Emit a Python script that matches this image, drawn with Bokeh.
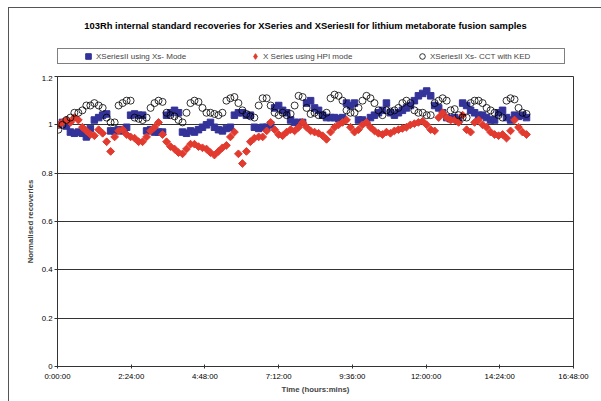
from bokeh.plotting import figure
from bokeh.layouts import column
from bokeh.models import (Legend, LegendItem, FixedTicker, NumeralTickFormatter, Range1d,
                          Label)
from bokeh.embed import file_html
from bokeh.resources import INLINE

FONT = "Liberation Sans"
BLUE = "#333399"
RED = "#e23a2e"
NAN = float("nan")

# sample times in hours
time_h = [
    0.03, 0.16, 0.29, 0.42, 0.55, 0.68, 0.81, 0.94, 1.07, 1.20,
    1.34, 1.47, 1.60, 1.73, 1.86, 1.99, 2.12, 2.25, 2.38, 2.51,
    2.64, 2.77, 2.90, 3.03, 3.16, 3.29, 3.42, 3.55, 3.68, 3.81,
    3.94, 4.07, 4.20, 4.33, 4.46, 4.59, 4.72, 4.85, 4.98, 5.11,
    5.24, 5.37, 5.50, 5.63, 5.76, 5.89, 6.02, 6.15, 6.28, 6.41,
    6.55, 6.68, 6.81, 6.94, 7.07, 7.20, 7.33, 7.46, 7.59, 7.72,
    7.85, 7.98, 8.11, 8.24, 8.37, 8.50, 8.63, 8.76, 8.89, 9.02,
    9.15, 9.28, 9.41, 9.54, 9.67, 9.80, 9.93, 10.06, 10.19, 10.32,
    10.45, 10.58, 10.71, 10.84, 10.97, 11.10, 11.23, 11.36, 11.49, 11.62,
    11.75, 11.89, 12.02, 12.15, 12.28, 12.41, 12.54, 12.67, 12.80, 12.93,
    13.06, 13.19, 13.32, 13.45, 13.58, 13.71, 13.84, 13.97, 14.10, 14.23,
    14.36, 14.49, 14.62, 14.75, 14.88, 15.01, 15.14, 15.27,
]

# XSeriesII using Xs- Mode
xs2_xs_mode = [
    1.0, 1.01, 0.995, 0.97, 0.965, 0.97, 0.965, 0.95, 0.985, 1.02,
    1.03, 1.04, 1.045, 0.975, 0.975, 0.98, 0.975, 0.99, 1.04, 1.045,
    1.04, 1.04, 0.975, 0.98, 0.97, 0.97, 0.97, 1.04, 1.05, 1.06,
    1.05, 0.97, 0.965, 0.975, 0.97, 0.98, 0.99, 1.0, 1.01, 0.99,
    0.98, 0.975, 0.985, 0.99, 1.04, 1.05, 1.05, 1.04, 1.04, 0.99,
    0.985, 0.99, 0.99, 1.0, 1.07, 1.08, 1.06, 1.05, 1.02, 1.01,
    1.01, 1.01, 1.09, 1.1, 1.07, 1.06, 1.04, 1.03, 1.03, 1.03,
    1.025, 1.03, 1.09, 1.08, 1.09, 1.02, 1.02, 1.01, 1.03, 1.04,
    1.05, 1.06, 1.09, 1.05, 1.04, 1.05, 1.06, 1.07, 1.08, 1.1,
    1.12, 1.13, 1.14, 1.12, 1.08, 1.07, 1.05, 1.03, 1.025, 1.03,
    1.02, 1.09, 1.08, 1.06, 1.05, 1.04, 1.04, 1.03, 1.02, 1.02,
    1.05, 1.06, 1.03, 1.02, 1.04, 1.035, 1.04, 1.03,
]

# X Series using HPI mode
xs_hpi_mode = [
    1.00, 1.01, 1.02, 1.01, 1.03, 1.02, 0.99, 0.975, 0.96, 0.955,
    0.98, 0.965, 0.93, 0.89, 0.95, 0.975, 0.98, 0.96, 0.95, 0.945,
    0.93, 0.93, 0.95, 0.975, 0.99, 1.01, 0.96, 0.93, 0.91, 0.90,
    0.885, 0.88, 0.90, 0.92, 0.92, 0.91, 0.905, 0.90, 0.885, 0.875,
    0.89, 0.905, 0.915, 0.95, 0.97, 0.88, 0.84, 0.89, 0.93, 0.945,
    0.95, 0.95, 0.975, 1.01, 0.98, 0.96, 0.955, 0.97, 0.98, 0.975,
    0.99, 1.01, 0.99, 0.975, 0.97, 0.965, 0.955, 0.94, 0.97, 0.99,
    1.0, 1.01, 1.02, 0.99, 0.97, 0.98, 1.0, 1.01, 0.99, 0.975,
    0.965, 0.96, 0.97, 0.965, 0.975, 0.98, 0.985, 0.99, 1.0, 1.005,
    1.01, 1.015, 1.0, 0.98, 0.975, 1.03, 1.05, 1.03, 1.02, 1.02,
    1.01, 1.04, 0.98, 0.97, 1.01, 1.02, 1.0, 0.99, 0.97, 0.96,
    0.955, 0.96, 0.945, 0.975, 1.02, 0.99, 0.97, 0.96,
]

# XSeriesII Xs- CCT with KED
xs2_cct_ked = [
    0.98, 1.0, 1.02, 1.03, 1.05, 1.05, 1.06, 1.08, 1.08, 1.09,
    1.08, 1.07, 1.03, 1.01, 1.01, 1.08, 1.09, 1.1, 1.1, 1.03,
    1.025, 1.02, 1.03, 1.07, 1.09, 1.1, 1.095, 1.05, 1.04, 1.035,
    1.02, 1.01, 1.05, 1.09, 1.1, 1.095, 1.07, 1.05, 1.05, 1.045,
    1.04, 1.05, 1.1, 1.11, 1.115, 1.09, 1.06, 1.045, 1.035, 1.03,
    1.08, 1.11, 1.11, 1.08, 1.05, 1.04, 1.05, 1.04, 1.045, 1.08,
    1.12, 1.115, 1.07, 1.045, 1.05, 1.04, 1.04, 1.05, 1.11, 1.125,
    1.12, 1.1, 1.06, 1.05, 1.05, 1.07, 1.1, 1.12, 1.11, 1.09,
    1.06, 1.04, 1.06, 1.055, 1.06, 1.07, 1.09, 1.1, 1.09, 1.06,
    1.05, 1.05, 1.04, 1.04, 1.09, 1.1, 1.11, 1.1, 1.06, 1.065,
    1.04, 1.03, 1.03, 1.09, 1.1, 1.1, 1.09, 1.07, 1.06, 1.05,
    1.04, 1.03, 1.1, 1.11, 1.105, 1.07, 1.05, 1.045,
]

series_labels = ["XSeriesII using Xs- Mode", "X Series using HPI mode", "XSeriesII Xs- CCT with KED"]
chart_title = "103Rh internal standard recoveries for XSeries and XSeriesII for lithium metaborate fusion samples"
x_ticks = [0, 2.4, 4.8, 7.2, 9.6, 12, 14.4, 16.8]
x_tick_labels = ["0:00:00", "2:24:00", "4:48:00", "7:12:00", "9:36:00", "12:00:00", "14:24:00", "16:48:00"]
y_ticks = [0, 0.2, 0.4, 0.6, 0.8, 1.0, 1.2]

# ---------- header: title + legend ----------
head = figure(width=592, height=67, output_backend="svg", toolbar_location=None,
              x_axis_type=None, y_axis_type=None, x_range=Range1d(0, 1), y_range=Range1d(0, 1),
              min_border=0, outline_line_color=None)
head.grid.visible = False
head.border_fill_color = "white"
head.background_fill_color = "white"

# legend-only renderers (no visible data points)
h1 = head.scatter(x=[NAN], y=[NAN], marker="square", size=6, fill_color=BLUE, line_color=BLUE)
h2 = head.scatter(x=[NAN], y=[NAN], marker="diamond", size=9, fill_color=RED, line_color=RED)
h3 = head.scatter(x=[NAN], y=[NAN], marker="circle", size=7, fill_color=None, line_color="black",
                  line_width=0.8)

head.add_layout(Label(x=248, y=50, x_units="screen", y_units="screen", text=chart_title,
                      text_align="center", text_baseline="middle", text_font=FONT,
                      text_font_size="9.4px", text_font_style="bold", text_color="black"))

legend = Legend(items=[LegendItem(label=series_labels[0], renderers=[h1]),
                       LegendItem(label=series_labels[1], renderers=[h2]),
                       LegendItem(label=series_labels[2], renderers=[h3])],
                location=(0, 11), orientation="horizontal")
legend.padding = 0
legend.spacing = 18
legend.label_width = 134
legend.glyph_width = 14
legend.glyph_height = 14
legend.label_standoff = 1
legend.label_height = 9
legend.margin = 0
legend.label_text_font = FONT
legend.label_text_font_size = "8px"
legend.border_line_color = "black"
legend.border_line_width = 1
legend.background_fill_color = "white"
legend.title = " "
legend.title_location = "left"
legend.title_text_font_size = "1px"
legend.title_standoff = 22
head.add_layout(legend)

# ---------- main chart ----------
p = figure(width=592, height=326, output_backend="svg", toolbar_location=None,
           x_range=Range1d(0, 16.8), y_range=Range1d(0, 1.2), title=None,
           min_border_left=48, min_border_right=28, min_border_top=1, min_border_bottom=35)

r1 = p.scatter(time_h, xs2_xs_mode, marker="square", size=6.5, fill_color=BLUE, line_color=BLUE)
r2 = p.scatter(time_h, xs_hpi_mode, marker="square", angle=0.785398, size=5.5,
               fill_color=RED, line_color=RED)
r3 = p.scatter(time_h, xs2_cct_ked, marker="circle", size=7, fill_color=None,
               line_color="black", line_width=0.8)

xa = p.below[0]
ya = p.left[0]
xa.ticker = FixedTicker(ticks=x_ticks)
xa.major_label_overrides = dict(zip(x_ticks, x_tick_labels))
ya.ticker = FixedTicker(ticks=y_ticks)
ya.formatter = NumeralTickFormatter(format="0.[0]")
p.ygrid.ticker = FixedTicker(ticks=y_ticks)
p.ygrid.grid_line_color = "#333333"
p.ygrid.grid_line_width = 1
p.xgrid.visible = False

xa.axis_label = "Time (hours:mins)"
ya.axis_label = "Normalised recoveries"
for ax in (xa, ya):
    ax.axis_label_text_font = FONT
    ax.axis_label_text_font_size = "7.8px"
    ax.axis_label_text_font_style = "bold"
    ax.major_label_text_font = FONT
    ax.major_label_text_font_size = "7.8px"
    ax.major_label_text_color = "black"
    ax.minor_tick_line_color = None
    ax.axis_line_color = "#333333"
    ax.major_tick_line_color = "#333333"
xa.major_tick_in = 2
xa.major_tick_out = 2
ya.major_tick_in = 0
ya.major_tick_out = 3
xa.major_label_standoff = 3
ya.major_label_standoff = 2
xa.axis_label_standoff = 1
ya.axis_label_standoff = 4

p.outline_line_color = "#333333"
p.outline_line_width = 1
p.background_fill_color = "white"
p.border_fill_color = "white"

layout = column(head, p, spacing=0,
                styles={"margin-left": "8px", "margin-top": "7px",
                        "border-left": "1px solid #555555", "border-top": "1px solid #555555"})

open("out.html", "w").write(file_html(layout, INLINE))
